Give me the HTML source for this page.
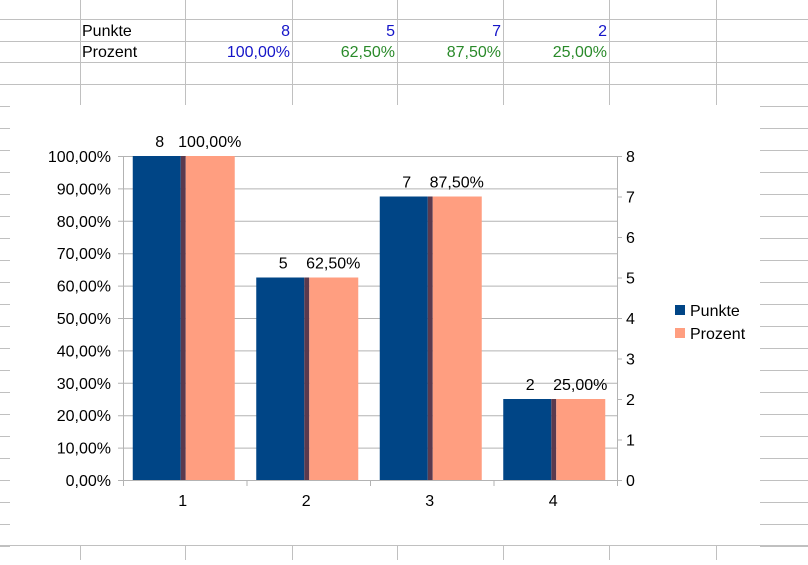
<!DOCTYPE html>
<html><head><meta charset="utf-8"><style>
body{margin:0;width:808px;height:560px;overflow:hidden;background:#fff;font-family:"Liberation Sans",sans-serif}
</style></head><body>
<svg id="s" width="808" height="560" xmlns="http://www.w3.org/2000/svg" font-family="Liberation Sans, sans-serif"></svg>
<script>
const categories=["1","2","3","4"];
const punkte=[8,5,7,2];
const prozent=[100,62.5,87.5,25];
const prozentLabels=["100,00%","62,50%","87,50%","25,00%"];
const leftTicks=["0,00%","10,00%","20,00%","30,00%","40,00%","50,00%","60,00%","70,00%","80,00%","90,00%","100,00%"];
const rightTicks=[0,1,2,3,4,5,6,7,8];
const FS=16;
const s=document.getElementById('s');const NS="http://www.w3.org/2000/svg";
function el(t,a,txt){const e=document.createElementNS(NS,t);for(const k in a)e.setAttribute(k,a[k]);if(txt!==undefined)e.textContent=txt;s.appendChild(e);return e;}
const cols=[80,185,292,397,503,609,716];
for(const y of [19,41,62,84]){const l=el('line',{x1:0,x2:808,y1:y+.5,y2:y+.5,stroke:'#c0c0c0'});}
for(const x of cols){const l=el('line',{x1:x+.5,x2:x+.5,y1:0,y2:105,stroke:'#c0c0c0'});
const l2=el('line',{x1:x+.5,x2:x+.5,y1:545,y2:560,stroke:'#c0c0c0'});}
for(let y=106;y<560;y+=22){for(const [a,b] of [[0,10],[760,808]]){const l=el('line',{x1:a,x2:b,y1:y+.5,y2:y+.5,stroke:'#c0c0c0'});}}
const l3=el('line',{x1:0,x2:808,y1:545.5,y2:545.5,stroke:'#c0c0c0'});
let t=el('text',{x:82,y:36,'font-size':FS,fill:'#000'},'Punkte');
t=el('text',{x:82,y:57,'font-size':FS,fill:'#000'},'Prozent');
categories.forEach((c,i)=>{const rx=cols[i+2]-2;
let a=el('text',{x:rx,y:36,'font-size':FS,fill:'#1515c8','text-anchor':'end'},String(punkte[i]));
a=el('text',{x:rx,y:57,'font-size':FS,fill:i==0?'#1515c8':'#2a8a2a','text-anchor':'end'},prozentLabels[i]);});
const X0=123,X1=617,Y0=480,Y1=156;
const yL=v=>Y0-(v/100)*(Y0-Y1), yR=v=>Y0-(v/8)*(Y0-Y1);
const bw=(X1-X0)/categories.length;
leftTicks.forEach((lb,i)=>{const y=yL(i*10);
let g=el('line',{x1:X0-5,x2:X1,y1:y+.5,y2:y+.5,stroke:'#b3b3b3'});
let tx=el('text',{x:X0-12,y:y+6,'font-size':FS,'text-anchor':'end'},lb);});
rightTicks.forEach(v=>{const y=yR(v);
let g=el('line',{x1:X1,x2:X1+5,y1:y+.5,y2:y+.5,stroke:'#b3b3b3'});
let tx=el('text',{x:X1+9,y:y+6,'font-size':FS},String(v));});
categories.forEach((c,i)=>{const cx=X0+bw*(i+0.5);
let b=el('rect',{x:cx-52,y:yR(punkte[i]),width:48,height:Y0-yR(punkte[i]),fill:'#004586'});
let sh=el('rect',{x:cx-4,y:yL(prozent[i]),width:5,height:Y0-yL(prozent[i]),fill:'#5a3a4e'});
b=el('rect',{x:cx+1,y:yL(prozent[i]),width:49,height:Y0-yL(prozent[i]),fill:'#ff9e80'});
let v=el('text',{x:cx-25,y:yR(punkte[i])-9,'font-size':FS,'text-anchor':'middle'},String(punkte[i]));
v=el('text',{x:cx+25,y:yL(prozent[i])-9,'font-size':FS,'text-anchor':'middle'},prozentLabels[i]);
let tk=el('line',{x1:X0+bw*(i+1)+.5,x2:X0+bw*(i+1)+.5,y1:Y0,y2:Y0+6,stroke:'#b3b3b3'});
let xl=el('text',{x:cx-2,y:Y0+26,'font-size':FS,'text-anchor':'middle'},c);});
let ax=el('line',{x1:X0+.5,x2:X0+.5,y1:Y1,y2:Y0+6,stroke:'#b3b3b3'});
ax=el('line',{x1:X1+.5,x2:X1+.5,y1:Y1,y2:Y0+6,stroke:'#b3b3b3'});
ax=el('line',{x1:X0,x2:X1,y1:Y0+.5,y2:Y0+.5,stroke:'#b3b3b3'});
let lg=el('rect',{x:675,y:305,width:10,height:10,fill:'#004586'});
lg=el('text',{x:690,y:316,'font-size':FS},'Punkte');
lg=el('rect',{x:675,y:328,width:10,height:10,fill:'#ff9e80'});
lg=el('text',{x:690,y:339,'font-size':FS},'Prozent');
</script>
</body></html>
